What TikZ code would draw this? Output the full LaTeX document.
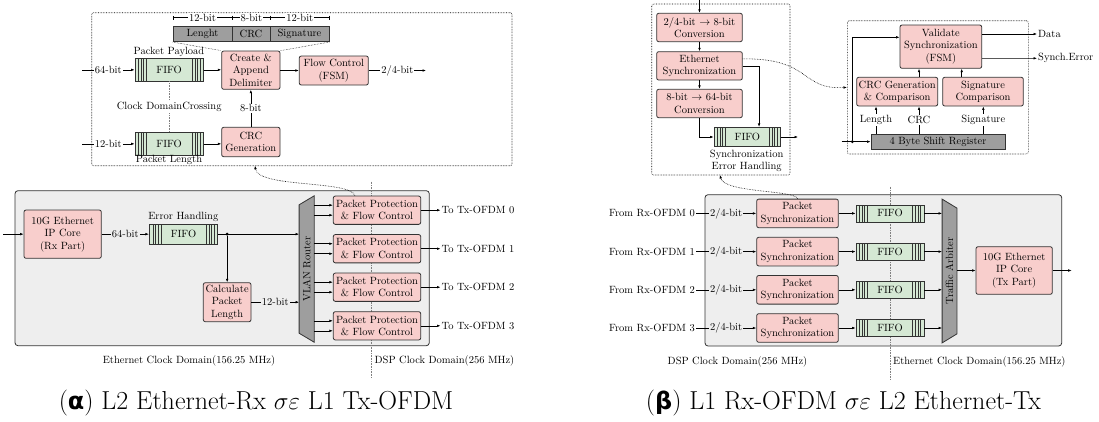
\documentclass[tikz,border=0pt]{standalone}
\usepackage{fontspec}
\newfontfamily\grksans[Scale=0.92]{DejaVu Sans}
\usetikzlibrary{arrows.meta,calc}
\definecolor{blkpink}{HTML}{F8CECC}
\definecolor{fifogreen}{HTML}{D5E8D4}
\definecolor{domaingray}{HTML}{EEEEEE}
\definecolor{reggray}{HTML}{9E9E9E}
\definecolor{edge}{HTML}{333333}
\newcommand\grkse{$\sigma\varepsilon$}
\begin{document}
\begin{tikzpicture}[x=1pt,y=-1pt, font=\fontsize{10.5}{12.5}\selectfont,
  >={Latex[length=3.5pt,width=2.6pt]},
  conn/.style={->, line width=0.6pt},
  blk/.style={draw=edge, fill=blkpink, line width=0.8pt, rounded corners=2pt, align=center, inner sep=1pt},
  fifo/.style={draw=edge, fill=fifogreen, line width=0.7pt, inner sep=0pt,
    path picture={\foreach \d in {3.5,6,8.5,11.5}{
      \draw[line width=0.6pt] ([xshift=\d pt]path picture bounding box.south west) -- ([xshift=\d pt]path picture bounding box.north west);
      \draw[line width=0.6pt] ([xshift=-\d pt]path picture bounding box.south east) -- ([xshift=-\d pt]path picture bounding box.north east);}}},
  dotframe/.style={draw=black, densely dotted, line width=0.6pt, rounded corners=2pt, inner sep=0pt},
  clkdomain/.style={draw=edge, fill=domaingray, line width=0.8pt, rounded corners=3pt, inner sep=0pt},
  regcell/.style={draw=edge, fill=reggray, line width=0.8pt, inner sep=0pt, minimum height=15.7},
  lbl/.style={inner sep=1pt, align=center},
  wlbl/.style={fill=white, inner sep=1pt},
  glbl/.style={fill=domaingray, inner sep=1pt},
  divider/.style={draw=gray, densely dotted, line width=0.6pt},
  link/.style={->, densely dotted, line width=0.6pt},
  jdot/.style={circle, fill=black, inner sep=0pt, minimum size=3.2pt},
  ghost/.style={inner sep=0pt, draw=none},
  arbfill/.style={draw=edge, fill=reggray, line width=0.8pt},
  ruler/.style={{Bar[width=4pt]}-{Bar[width=4pt]}, line width=0.5pt},
  subcap/.style={inner sep=0pt, font=\fontsize{26}{30}\selectfont}
]
\useasboundingbox (0,0) rectangle (1099,421);

% ===================== (a) Ethernet Rx -> Tx-OFDM =====================
% detail frame: packet protection internals
\node[dotframe, minimum width=420.3, minimum height=153] (aTop) at (301.85,89.2) {};
\node[regcell, minimum width=59] (regL) at (202.5,33.85) {Lenght};
\node[regcell, minimum width=38] (regC) at (251,33.85) {CRC};
\node[regcell, minimum width=59] (regS) at (299.5,33.85) {Signature};
\coordinate (r0) at ([yshift=8pt]regL.north west);
\coordinate (r1) at ([yshift=8pt]regL.north east);
\coordinate (r2) at ([yshift=8pt]regC.north east);
\coordinate (r3) at ([yshift=8pt]regS.north east);
\draw[ruler] (r0) -- node[wlbl]{12-bit} (r1);
\draw[ruler] (r1) -- node[wlbl]{8-bit} (r2);
\draw[ruler] (r2) -- node[wlbl]{12-bit} (r3);

\node[blk, minimum width=58.3, minimum height=38.3] (create) at (250.85,70.15) {Create \&\\Append\\Delimiter};
\node[blk, minimum width=69, minimum height=29] (flow) at (333.8,70.5) {Flow Control\\(FSM)};
\node[fifo, minimum width=68.3, minimum height=22.3] (fifoA) at (169.15,69.85) {FIFO};
\node[fifo, minimum width=68.3, minimum height=22.3] (fifoB) at (169.15,143.85) {FIFO};
\node[blk, minimum width=58.3, minimum height=29.4] (crcgen) at (250.85,142) {CRC\\Generation};
\node[lbl] (payload) at (169,52) {Packet Payload};
\node[lbl] (plen) at (169,160) {Packet Length};

\draw[densely dotted, line width=0.5pt] (regL.south west) -- (create.north west);
\draw[densely dotted, line width=0.5pt] (regS.south east) -- (create.north east);

\coordinate (aIn1) at (82,69.85);
\coordinate (aIn2) at (82,143.85);
\coordinate (aOut) at (426,70.5);
\draw[conn] (aIn1) -- node[wlbl]{64-bit} (fifoA);
\draw[conn] (aIn2) -- node[wlbl]{12-bit} (fifoB);
\draw[conn] (fifoA.east) -- (fifoA.east -| create.west);
\draw[conn] (create.east |- flow.west) -- (flow.west);
\draw[conn] (flow) -- node[wlbl]{2/4-bit} (aOut);
\draw[conn] (fifoB.east) -- (fifoB.east -| crcgen.west);
\draw[conn] (crcgen) -- node[wlbl]{8-bit} (create);
\draw[divider] (fifoA) -- node[wlbl, text=black]{Clock DomainCrossing} (fifoB);

% clock domains
\node[clkdomain, minimum width=414.3, minimum height=155] (aDom) at (222.15,268.2) {};
\coordinate (aDivTop) at (371.7,181.7);
\coordinate (aDivBot) at (371.7,378);
\draw[divider] (aDivTop) -- (aDivBot);
\node[lbl] (aEthDom) at (189,360.7) {Ethernet Clock Domain(156.25 MHz)};
\node[lbl] (aDspDom) at (444.5,360.5) {DSP Clock Domain(256 MHz)};

\node[blk, minimum width=77.3, minimum height=48.3] (ipRx) at (62.65,234.15) {10G Ethernet\\IP Core\\(Rx Part)};
\node[fifo, minimum width=68.4, minimum height=19.7] (fifoC) at (183.5,234.15) {FIFO};
\node[lbl] (errh) at (183.3,217) {Error Handling};
\node[blk, minimum width=47.7, minimum height=39] (calc) at (227.15,302.2) {Calculate\\Packet\\Length};

\node[ghost, minimum width=14.7, minimum height=146] (vlan) at (306.65,269) {};
\filldraw[arbfill] (vlan.north east) -- (vlan.south east) -- ([yshift=9pt]vlan.south west) -- ([yshift=-9pt]vlan.north west) -- cycle;
\node[rotate=90, inner sep=0pt] (vlanT) at (vlan.center) {VLAN Router};

\foreach \i/\y in {0/210.2,1/248.7,2/287.2,3/325.8}{
  \node[blk, minimum width=87.4, minimum height=28.3] (pp\i) at (377,\y) {Packet Protection\\\& Flow Control};
  \node[lbl, anchor=west] (tx\i) at (440.5,\y) {To Tx-OFDM \i};
  \draw[conn] (pp\i) -- (tx\i);
  \draw[conn] ([yshift=5pt]pp\i.west -| vlan.east) -- ([yshift=5pt]pp\i.west);
  \draw[conn] ([yshift=-5pt]pp\i.west -| vlan.east) -- ([yshift=-5pt]pp\i.west);
}

\coordinate (aIn) at (3,234.15);
\draw[conn] (aIn) -- (ipRx);
\draw[conn] (ipRx) -- node[glbl]{64-bit} (fifoC);
\node[jdot] (aJ) at (fifoC.east -| calc.north) {};
\draw[conn] (fifoC.east) -- (fifoC.east -| vlan.west);
\draw[conn] (aJ) -- (calc);
\draw[conn] (calc.east) -- node[glbl]{12-bit} (calc.east -| vlan.west);

\coordinate (aTopIn) at (255,165.7);
\draw[link] ([xshift=-22pt]pp0.north) .. controls (350,180) and (258,188) .. (aTopIn);

% ===================== (b) Rx-OFDM -> Ethernet Tx =====================
\node[dotframe, minimum width=138.3, minimum height=171] (bTopL) at (720.85,89.5) {};
\node[blk, minimum width=85.6, minimum height=28.4] (conv1) at (699.5,27.5) {2/4-bit $\rightarrow$ 8-bit\\Conversion};
\node[blk, minimum width=85.6, minimum height=28.4] (eth) at (699.5,65.85) {Ethernet\\Synchronization};
\node[blk, minimum width=85.6, minimum height=28.4] (conv2) at (699.5,103.5) {8-bit $\rightarrow$ 64-bit\\Conversion};
\node[fifo, minimum width=66.7, minimum height=19.4] (fifoD) at (747.35,137) {FIFO};
\node[lbl] (seh) at (746.7,161) {Synchronization\\Error Handling};

\coordinate (bIn) at (699.5,0);
\coordinate (bOutL) at (798,137);
\draw[conn] (bIn) -- (conv1);
\draw[conn] (conv1) -- (eth);
\draw[conn] (eth) -- (conv2);
\draw[conn] (conv2.south) |- (fifoD.west);
\draw[conn] (eth.east) -| ([xshift=11.7pt]fifoD.north);
\draw[conn] (fifoD) -- (bOutL);

\node[dotframe, minimum width=181, minimum height=133.3] (bR) at (937.8,87.35) {};
\node[blk, minimum width=81.7, minimum height=43.3] (val) at (940.85,46.65) {Validate\\Synchronization\\(FSM)};
\node[blk, minimum width=81, minimum height=28.7] (crcC) at (897.2,91.65) {CRC Generation\\\& Comparison};
\node[blk, minimum width=80.6, minimum height=28.7] (sigC) at (983,91.65) {Signature\\Comparison};
\node[regcell, minimum width=134, minimum height=14.7] (shreg) at (938,141.65) {4 Byte Shift Register};

\draw[conn] ([xshift=21.8pt]crcC.north) -- ([xshift=21.8pt]crcC.north |- val.south);
\draw[conn] ([xshift=-21.3pt]sigC.north) -- ([xshift=-21.3pt]sigC.north |- val.south);
\draw[conn] ([xshift=-62pt]shreg.north) -- node[wlbl]{Length} ([xshift=-62pt]shreg.north |- crcC.south);
\draw[conn] ([xshift=-19pt]shreg.north) -- node[wlbl]{CRC} ([xshift=-19pt]shreg.north |- crcC.south);
\draw[conn] ([xshift=45.3pt]shreg.north) -- node[wlbl]{Signature} ([xshift=45.3pt]shreg.north |- sigC.south);

\coordinate (bRIn) at (841.7,141.65);
\draw[conn] (bRIn) -- (shreg.west);
\node[jdot] (bJ) at (852.3,141.65) {};
\draw[conn] (bJ) |- ([yshift=9.35pt]val.west);

\node[lbl, anchor=west] (data) at (1037,34) {Data};
\node[lbl, anchor=west] (serr) at (1037,58.3) {Synch.Error};
\draw[conn] ([yshift=12.65pt]val.east) -- (data.west);
\draw[conn] ([yshift=-11.65pt]val.east) -- (serr.west);

\draw[link] ([yshift=7pt]eth.east) .. controls (812,58) and (800,90) .. (bR.west);

% clock domains
\node[clkdomain, minimum width=356.7, minimum height=151.3] (bDom) at (883.35,270.35) {};
\coordinate (bDivTop) at (890,186.7);
\coordinate (bDivBot) at (890,380);
\draw[divider] (bDivTop) -- (bDivBot);
\node[lbl] (bDspDom) at (737.5,361.7) {DSP Clock Domain(256 MHz)};
\node[lbl] (bEthDom) at (979.3,361.7) {Ethernet Clock Domain(156.25 MHz)};

\node[ghost, minimum width=14.4, minimum height=143.4] (arb) at (949.5,271) {};
\filldraw[arbfill] (arb.north west) -- (arb.south west) -- ([yshift=9pt]arb.south east) -- ([yshift=-9pt]arb.north east) -- cycle;
\node[rotate=90, inner sep=0pt] (arbT) at (arb.center) {Traffic Arbiter};

\node[blk, minimum width=76.3, minimum height=47.6] (ipTx) at (1014.15,270.5) {10G Ethernet\\IP Core\\(Tx Part)};
\coordinate (bOut) at (1071.7,270.5);
\draw[conn] (ipTx.west -| arb.east) -- (ipTx.west);
\draw[conn] (ipTx) -- (bOut);

\foreach \i/\y in {0/213.4,1/251.6,2/289.8,3/328}{
  \node[lbl, anchor=east] (from\i) at (696,\y) {From Rx-OFDM \i};
  \node[blk, minimum width=81.6, minimum height=28.6] (ps\i) at (797.5,\y) {Packet\\Synchronization};
  \node[fifo, minimum width=68, minimum height=17] (fq\i) at (890,\y) {FIFO};
  \draw[conn] (from\i) -- node[glbl]{2/4-bit} (ps\i);
  \draw[conn] (ps\i) -- (fq\i);
  \draw[conn] (fq\i.east) -- (fq\i.east -| arb.west);
}

\coordinate (bTopIn) at (720,175);
\draw[link] (ps0.north) .. controls (796,190) and (724,193) .. (bTopIn);

% ===================== captions =====================
\node[subcap] (capA) at (256,403) {({\grksans\bfseries α}) L2 Ethernet-Rx \grkse{} L1 Tx-OFDM};
\node[subcap] (capB) at (843.5,403) {({\grksans\bfseries β}) L1 Rx-OFDM \grkse{} L2 Ethernet-Tx};
\end{tikzpicture}
\end{document}
